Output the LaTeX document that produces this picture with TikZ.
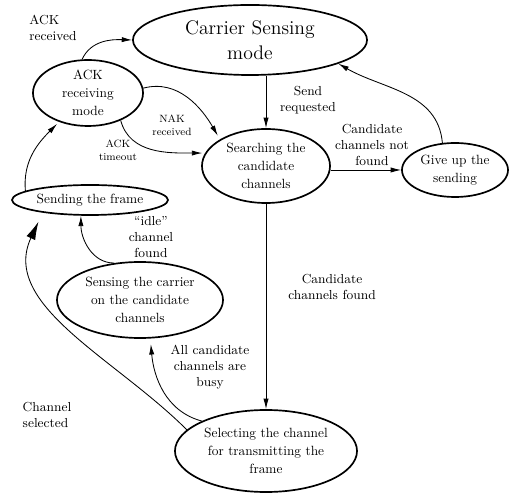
\documentclass[tikz,border=0pt]{standalone}
\usepackage{tikz}
\usetikzlibrary{arrows.meta,shapes.geometric}
\tikzset{
  ebox/.style={draw,ellipse,line width=1.2pt,inner sep=-5mm,align=center,font=\fontsize{9.5}{13}\selectfont},
  flow/.style={-{Latex[length=2.6mm,width=1.3mm]},semithick},
  bigflow/.style={-{Latex[length=4.5mm,width=2.4mm]},semithick},
  lbl/.style={align=center,font=\fontsize{9.3}{11.5}\selectfont},
  smalllbl/.style={align=center,font=\fontsize{7.5}{9.5}\selectfont}}

\begin{document}
\begin{tikzpicture}[x=0.025cm,y=0.025cm]
  \useasboundingbox (0,0) rectangle (511,492);
  % the states
  \node[ebox,minimum width=5.85cm,minimum height=1.75cm,font=\fontsize{14}{18}\selectfont] (carrier) at (250,452) {Carrier Sensing\\mode};
  \node[ebox,minimum width=2.75cm,minimum height=1.65cm] (ackr) at (88,399) {ACK\\receiving\\mode};
  \node[ebox,minimum width=3.2cm,minimum height=1.85cm] (search) at (266,326) {Searching the\\candidate\\channels};
  \node[ebox,minimum width=2.65cm,minimum height=1.35cm] (giveup) at (455,322) {Give up the\\sending};
  \node[ebox,minimum width=3.9cm,minimum height=0.75cm] (frame) at (90,292) {Sending the frame};
  \node[ebox,minimum width=4.15cm,minimum height=1.9cm] (sensing) at (140,192) {Sensing the carrier\\on the candidate\\channels};
  \node[ebox,minimum width=4.55cm,minimum height=2.05cm] (selecting) at (266,41) {Selecting the channel\\for transmitting the\\frame};
  % transitions
  \draw[flow] (ackr.100) to[out=65,in=178] (carrier.west);
  \draw[flow,shorten >=3pt] (ackr.5) to[out=15,in=120] (search.150);
  \draw[flow,shorten >=2pt] (ackr.-40) to[out=-75,in=180] (search.168);
  \draw[flow] (search.north |- carrier.south) -- (search.north);
  \draw[flow] (search.east |- giveup.west) -- (giveup.west);
  \draw[flow] (giveup.115) to[out=95,in=-30] (carrier.-15);
  \draw[flow] (search.south) -- (search.south |- selecting.north);
  \draw[flow,shorten >=4pt] (selecting.155) to[out=165,in=-85] (sensing.-75);
  \draw[flow] (sensing.125) to[out=180,in=-90] (frame.-120);
  \draw[bigflow,shorten >=2.5mm] (selecting.165) to[out=135,in=-115] (frame.195);
  \draw[flow,shorten >=2pt] (frame.172) to[out=95,in=-135] (ackr.-135);
  % labels
  \node[lbl,align=left] (lack) at (53,464) {ACK\\received};
  \node[smalllbl] (lnak) at (172,367) {NAK\\received};
  \node[smalllbl] (ltime) at (118,342) {ACK\\timeout};
  \node[lbl] (lsend) at (308,392) {Send\\requested};
  \node[lbl] (lnot) at (372,347) {Candidate\\channels not\\found};
  \node[lbl] (lfound) at (332,205) {Candidate\\channels found};
  \node[lbl] (lidle) at (151,255) {``idle''\\channel\\found};
  \node[lbl] (lbusy) at (210,125) {All candidate\\channels are\\busy};
  \node[lbl,align=left] (lsel) at (47,77) {Channel\\selected};
\end{tikzpicture}
\end{document}
